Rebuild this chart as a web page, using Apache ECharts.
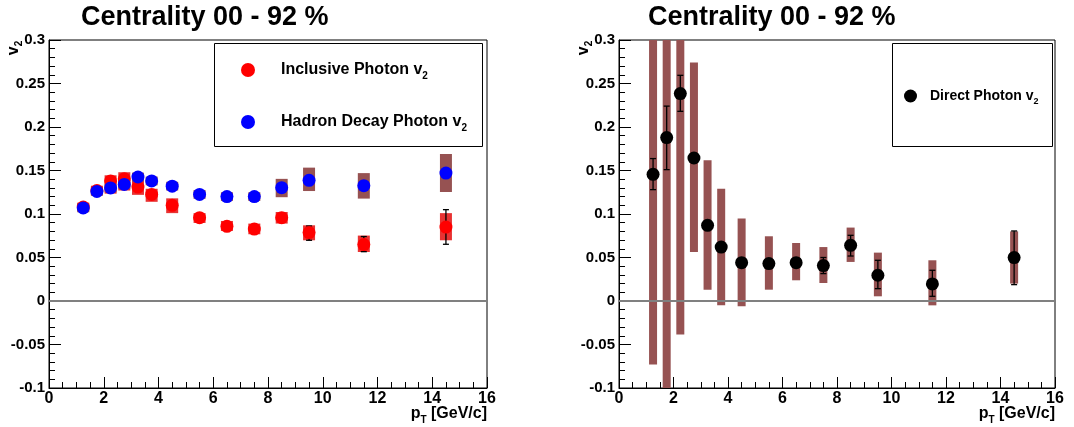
<!DOCTYPE html>
<html>
<head>
<meta charset="utf-8">
<script src="https://cdn.jsdelivr.net/npm/echarts@6/dist/echarts.min.js"></script>
<style>
html,body{margin:0;padding:0;background:#fff;}
#chart{width:1074px;height:427px;}
</style>
</head>
<body>
<div id="chart"></div>
<script>
// ---- data ----
const ptBins = [1.25, 1.75, 2.25, 2.75, 3.25, 3.75, 4.5, 5.5, 6.5, 7.5, 8.5, 9.5, 11.5, 14.5];

const inclusiveV2     = [0.108, 0.127, 0.138, 0.1405, 0.131, 0.1225, 0.110, 0.0958, 0.0858, 0.0827, 0.0958, 0.0786, 0.0648, 0.085];
const inclusiveSysLo  = [0.103, 0.1215, 0.1234, 0.127, 0.122, 0.114, 0.101, 0.0897, 0.0805, 0.0767, 0.089, 0.0698, 0.0563, 0.0698];
const inclusiveSysHi  = [0.113, 0.1325, 0.1445, 0.148, 0.139, 0.129, 0.118, 0.101, 0.092, 0.089, 0.1023, 0.087, 0.0752, 0.101];
const inclusiveStatLo = [0.105, 0.124, 0.135, 0.1375, 0.128, 0.1195, 0.107, 0.0928, 0.0828, 0.0797, 0.0928, 0.0698, 0.0567, 0.0652];
const inclusiveStatHi = [0.111, 0.130, 0.141, 0.1435, 0.134, 0.1255, 0.113, 0.0988, 0.0888, 0.0857, 0.0988, 0.0862, 0.0741, 0.105];

const decayV2    = [0.107, 0.126, 0.130, 0.134, 0.1425, 0.138, 0.132, 0.1225, 0.120, 0.120, 0.1303, 0.1387, 0.1326, 0.147];
const decaySysLo = [0.102, 0.121, 0.125, 0.129, 0.1375, 0.133, 0.127, 0.1175, 0.115, 0.115, 0.1193, 0.1264, 0.1177, 0.1253];
const decaySysHi = [0.112, 0.131, 0.135, 0.139, 0.1475, 0.143, 0.137, 0.1275, 0.125, 0.125, 0.1404, 0.1533, 0.147, 0.169];

const directV2     = [0.1456, 0.1878, 0.2384, 0.1644, 0.087, 0.062, 0.044, 0.043, 0.0441, 0.0407, 0.064, 0.0296, 0.0196, 0.0499];
const directSysLo  = [-0.073, -0.13, -0.0386, 0.0563, 0.013, -0.005, -0.006, 0.013, 0.0238, 0.0207, 0.0449, 0.0054, -0.005, 0.020];
const directSysHi  = [0.40, 0.45, 0.50, 0.274, 0.1617, 0.129, 0.0947, 0.0744, 0.0667, 0.062, 0.0844, 0.0556, 0.0468, 0.080];
const directStatLo = [0.128, 0.151, 0.218, 0.161, 0.084, 0.059, 0.040, 0.040, 0.041, 0.0315, 0.0517, 0.0142, 0.0054, 0.0188];
const directStatHi = [0.1637, 0.224, 0.2594, 0.168, 0.090, 0.065, 0.048, 0.046, 0.047, 0.050, 0.0755, 0.0468, 0.0353, 0.0805];

const xTickLabels = ['0', '2', '4', '6', '8', '10', '12', '14', '16'];
const yTickLabels = ['-0.1', '-0.05', '0', '0.05', '0.1', '0.15', '0.2', '0.25', '0.3'];

const titleText = 'Centrality 00 - 92 %';
const nameInclusive = 'Inclusive Photon v2';
const nameDecay = 'Hadron Decay Photon v2';
const nameDirect = 'Direct Photon v2';

// ---- helpers ----
const FONT = "'Liberation Sans', Arial, Helvetica, sans-serif";
const zip3 = (a, b, c) => ptBins.map((x, i) => [x, b[i], c[i], a ? a[i] : 0]);
const pts = (v) => ptBins.map((x, i) => [x, v[i]]);

function boxRender(width, color) {
  return function (params, api) {
    const x = api.value(0), lo = api.value(1), hi = api.value(2);
    const p1 = api.coord([x, hi]);
    const p2 = api.coord([x, lo]);
    const cs = params.coordSys;
    const r = echarts.graphic.clipRectByRect(
      { x: p1[0] - width / 2, y: p1[1], width: width, height: p2[1] - p1[1] },
      { x: cs.x, y: cs.y, width: cs.width, height: cs.height });
    return r ? { type: 'rect', shape: r, style: { fill: color } } : null;
  };
}
function errRender(cap, color) {
  return function (params, api) {
    const x = api.value(0), lo = api.value(1), hi = api.value(2);
    const p1 = api.coord([x, hi]);
    const p2 = api.coord([x, lo]);
    const st = { stroke: color, lineWidth: 1.3 };
    return {
      type: 'group',
      children: [
        { type: 'line', shape: { x1: p1[0], y1: p1[1], x2: p2[0], y2: p2[1] }, style: st },
        { type: 'line', shape: { x1: p1[0] - cap, y1: p1[1], x2: p1[0] + cap, y2: p1[1] }, style: st },
        { type: 'line', shape: { x1: p2[0] - cap, y1: p2[1], x2: p2[0] + cap, y2: p2[1] }, style: st }
      ]
    };
  };
}
const findLabel = (arr, v) => arr.find(l => Math.abs(parseFloat(l) - v) < 1e-9) || '';

function makeX(gi) {
  return {
    type: 'value', gridIndex: gi, min: 0, max: 16, interval: 2,
    axisLine: { show: true, onZero: false, lineStyle: { color: '#000', width: 1 } },
    axisTick: { show: true, inside: true, length: 11, lineStyle: { color: '#000', width: 1 } },
    minorTick: { show: true, splitNumber: 4, length: 6, lineStyle: { color: '#000', width: 1 } },
    splitLine: { show: false },
    axisLabel: { margin: 3, color: '#000', fontFamily: FONT, fontWeight: 'bold', fontSize: 16,
      formatter: v => findLabel(xTickLabels, v) },
    name: '{p|p}{t|T}{r| [GeV/c]}',
    nameLocation: 'end', nameGap: 0, nameMoveOverlap: false,
    nameTextStyle: {
      align: 'right', verticalAlign: 'top', padding: [15, 0, 0, 0],
      fontFamily: FONT, fontWeight: 'bold', fontSize: 16, color: '#000',
      rich: {
        p: { fontFamily: FONT, fontWeight: 'bold', fontSize: 16, lineHeight: 22, color: '#000' },
        t: { fontFamily: FONT, fontWeight: 'bold', fontSize: 10, lineHeight: 22, verticalAlign: 'bottom', color: '#000' },
        r: { fontFamily: FONT, fontWeight: 'bold', fontSize: 16, lineHeight: 22, color: '#000' }
      }
    }
  };
}
function makeY(gi) {
  return {
    type: 'value', gridIndex: gi, min: -0.1, max: 0.3, interval: 0.05,
    axisLine: { show: true, onZero: false, lineStyle: { color: '#000', width: 1 } },
    axisTick: { show: true, inside: true, length: 12, lineStyle: { color: '#000', width: 1 } },
    minorTick: { show: true, splitNumber: 5, length: 6, lineStyle: { color: '#000', width: 1 } },
    splitLine: { show: false },
    axisLabel: { margin: 4, color: '#000', fontFamily: FONT, fontWeight: 'bold', fontSize: 15,
      formatter: v => findLabel(yTickLabels, v) }
  };
}
const zeroLine = {
  silent: true, symbol: 'none',
  label: { show: false },
  lineStyle: { color: '#808080', width: 2, type: 'solid' },
  data: [{ yAxis: 0 }]
};
const legendRich = {
  s: { fontFamily: FONT, fontWeight: 'bold', fontSize: 10, lineHeight: 22, verticalAlign: 'bottom', color: '#000' }
};
const subFmt = n => n.replace(/2$/, '') + '{s|2}';

const chart = echarts.init(document.getElementById('chart'), null, { renderer: 'canvas' });
chart.setOption({
  animation: false,
  backgroundColor: '#fff',
  title: [
    { text: titleText, left: 76, top: -1, textStyle: { fontFamily: FONT, fontWeight: 'bold', fontSize: 27, color: '#000' } },
    { text: titleText, left: 643, top: -1, textStyle: { fontFamily: FONT, fontWeight: 'bold', fontSize: 27, color: '#000' } }
  ],
  grid: [
    { left: 49, top: 40, width: 438, height: 348, show: true, borderColor: '#000', borderWidth: 1, backgroundColor: 'transparent', containLabel: false, outerBoundsMode: 'none' },
    { left: 619, top: 40, width: 436, height: 348, show: true, borderColor: '#000', borderWidth: 1, backgroundColor: 'transparent', containLabel: false, outerBoundsMode: 'none' }
  ],
  xAxis: [makeX(0), makeX(1)],
  yAxis: [makeY(0), makeY(1)],
  legend: [
    {
      data: [nameInclusive, nameDecay], orient: 'vertical', left: 241, top: 59, padding: 0,
      icon: 'circle', itemWidth: 14, itemHeight: 14, itemGap: 30, selectedMode: false,
      formatter: subFmt,
      textStyle: { fontFamily: FONT, fontWeight: 'bold', fontSize: 16, color: '#000', lineHeight: 22,
        padding: [0, 0, 0, 21], rich: legendRich }
    },
    {
      data: [nameDirect], orient: 'vertical', left: 904, top: 86, padding: 0,
      icon: 'circle', itemWidth: 13, itemHeight: 13, selectedMode: false,
      formatter: subFmt,
      textStyle: { fontFamily: FONT, fontWeight: 'bold', fontSize: 14, color: '#000', lineHeight: 20,
        padding: [0, 0, 0, 8], rich: { s: { fontFamily: FONT, fontWeight: 'bold', fontSize: 9, lineHeight: 20, verticalAlign: 'bottom', color: '#000' } } }
    }
  ],
  graphic: [
    { type: 'rect', z: 3, shape: { x: 214.5, y: 43.5, width: 268, height: 103 }, style: { fill: '#fff', stroke: '#000', lineWidth: 1 } },
    { type: 'rect', z: 3, shape: { x: 892.5, y: 43.5, width: 160, height: 103 }, style: { fill: '#fff', stroke: '#000', lineWidth: 1 } },
    { type: 'text', x: 14, y: 48, rotation: Math.PI / 2, z: 5,
      style: { text: '{v|v}{s|2}', align: 'center', verticalAlign: 'middle',
        rich: { v: { fontFamily: FONT, fontWeight: 'bold', fontSize: 16, lineHeight: 20, fill: '#000' },
                s: { fontFamily: FONT, fontWeight: 'bold', fontSize: 10, lineHeight: 20, verticalAlign: 'bottom', fill: '#000' } } } },
    { type: 'text', x: 584, y: 48, rotation: Math.PI / 2, z: 5,
      style: { text: '{v|v}{s|2}', align: 'center', verticalAlign: 'middle',
        rich: { v: { fontFamily: FONT, fontWeight: 'bold', fontSize: 16, lineHeight: 20, fill: '#000' },
                s: { fontFamily: FONT, fontWeight: 'bold', fontSize: 10, lineHeight: 20, verticalAlign: 'bottom', fill: '#000' } } } }
  ],
  series: [
    // left panel systematic boxes
    { type: 'custom', name: 'inclSys', xAxisIndex: 0, yAxisIndex: 0, z: 2, silent: true,
      renderItem: boxRender(12, '#e83232'), data: zip3(null, inclusiveSysLo, inclusiveSysHi), encode: { x: 0, y: [1, 2] } },
    { type: 'custom', name: 'decaySys', xAxisIndex: 0, yAxisIndex: 0, z: 2, silent: true,
      renderItem: boxRender(12, '#965252'), data: zip3(null, decaySysLo, decaySysHi), encode: { x: 0, y: [1, 2] } },
    // stat error bars
    { type: 'custom', name: 'inclStat', xAxisIndex: 0, yAxisIndex: 0, z: 3, silent: true,
      renderItem: errRender(3, '#000'), data: zip3(null, inclusiveStatLo, inclusiveStatHi), encode: { x: 0, y: [1, 2] } },
    // points
    { type: 'scatter', name: nameInclusive, xAxisIndex: 0, yAxisIndex: 0, z: 4,
      symbol: 'circle', symbolSize: 13, itemStyle: { color: '#ff0000', opacity: 1 },
      data: pts(inclusiveV2), markLine: zeroLine },
    { type: 'scatter', name: nameDecay, xAxisIndex: 0, yAxisIndex: 0, z: 5,
      symbol: 'circle', symbolSize: 13, itemStyle: { color: '#0000ff', opacity: 1 },
      data: pts(decayV2) },
    // right panel
    { type: 'custom', name: 'directSys', xAxisIndex: 1, yAxisIndex: 1, z: 2, silent: true,
      renderItem: boxRender(8, '#965252'), data: zip3(null, directSysLo, directSysHi), encode: { x: 0, y: [1, 2] } },
    { type: 'custom', name: 'directStat', xAxisIndex: 1, yAxisIndex: 1, z: 3, silent: true,
      renderItem: errRender(3, '#000'), data: zip3(null, directStatLo, directStatHi), encode: { x: 0, y: [1, 2] } },
    { type: 'scatter', name: nameDirect, xAxisIndex: 1, yAxisIndex: 1, z: 4,
      symbol: 'circle', symbolSize: 13, itemStyle: { color: '#000', opacity: 1 },
      data: pts(directV2), markLine: zeroLine }
  ]
});
</script>
</body>
</html>
